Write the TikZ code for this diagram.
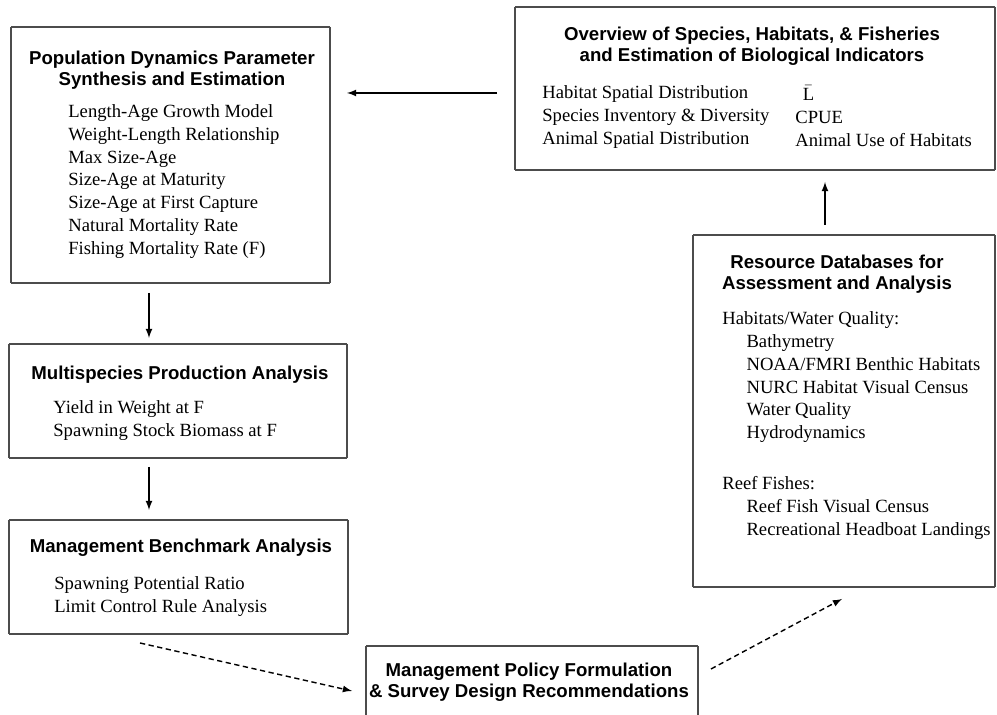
\documentclass[tikz,border=0pt]{standalone}
\usepackage{fontspec}
\setmainfont{Liberation Serif}
\setsansfont{Liberation Sans}
\usetikzlibrary{arrows}
\pgfdeclarelayer{edgelayer}
\pgfdeclarelayer{nodelayer}
\pgfsetlayers{nodelayer,main,edgelayer}
\tikzset{
	heading/.style={align=center, font=\sffamily\bfseries\fontsize{10.6}{12}\selectfont},
	listing/.style={align=left, anchor=west, inner sep=0pt, font=\fontsize{10.6}{13}\selectfont},
	boxline/.style={line width=0.9pt, color=black!70},
	flow/.style={thick, -latex},
	dashflow/.style={thick, dash pattern=on 3pt off 2pt, -latex}
}

\begin{document}
\begin{tikzpicture}
	\useasboundingbox (0,0) rectangle (19.94,14.3);
	\begin{pgfonlayer}{nodelayer}
		\node [] (0) at (0.22, 13.76) {};
		\node [] (1) at (6.6, 13.76) {};
		\node [] (2) at (6.6, 8.64) {};
		\node [] (3) at (0.22, 8.64) {};
		\node [] (4) at (0.18, 7.42) {};
		\node [] (5) at (6.94, 7.42) {};
		\node [] (6) at (6.94, 5.14) {};
		\node [] (7) at (0.18, 5.14) {};
		\node [] (8) at (0.18, 3.9) {};
		\node [] (9) at (6.96, 3.9) {};
		\node [] (10) at (6.96, 1.62) {};
		\node [] (11) at (0.18, 1.62) {};
		\node [] (12) at (7.32, 0) {};
		\node [] (13) at (7.32, 1.38) {};
		\node [] (14) at (13.96, 1.38) {};
		\node [] (15) at (13.96, 0) {};
		\node [] (16) at (13.86, 9.6) {};
		\node [] (17) at (19.9, 9.6) {};
		\node [] (18) at (19.9, 2.56) {};
		\node [] (19) at (13.86, 2.56) {};
		\node [] (20) at (10.3, 14.16) {};
		\node [] (21) at (19.9, 14.16) {};
		\node [] (22) at (19.9, 10.9) {};
		\node [] (23) at (10.3, 10.9) {};
		\node [] (24) at (9.94, 12.44) {};
		\node [] (25) at (6.94, 12.44) {};
		\node [] (26) at (2.98, 8.44) {};
		\node [] (27) at (2.98, 7.54) {};
		\node [] (28) at (2.98, 4.96) {};
		\node [] (29) at (2.98, 4.1) {};
		\node [] (30) at (2.8, 1.44) {};
		\node [] (31) at (7.04, 0.48) {};
		\node [] (32) at (14.22, 0.92) {};
		\node [] (33) at (16.84, 2.32) {};
		\node [] (34) at (16.5, 9.8) {};
		\node [] (35) at (16.5, 10.66) {};
		\node [heading] (36) at (3.44, 12.9) {Population Dynamics Parameter\\Synthesis and Estimation};
		\node [listing] (37) at (1.36, 10.67) {Length-Age Growth Model\\Weight-Length Relationship\\Max Size-Age\\Size-Age at Maturity\\Size-Age at First Capture\\Natural Mortality Rate\\Fishing Mortality Rate (F)};
		\node [heading] (38) at (3.6, 6.8) {Multispecies Production Analysis};
		\node [listing] (39) at (1.06, 5.89) {Yield in Weight at F\\Spawning Stock Biomass at F};
		\node [heading] (40) at (3.62, 3.34) {Management Benchmark Analysis};
		\node [listing] (41) at (1.08, 2.37) {Spawning Potential Ratio\\Limit Control Rule Analysis};
		\node [heading] (42) at (10.58, 0.65) {Management Policy Formulation\\\& Survey Design Recommendations};
		\node [heading] (43) at (16.74, 8.82) {Resource Databases for\\Assessment and Analysis};
		\node [listing] (44) at (14.44, 5.79) {Habitats/Water Quality:\\\hspace*{1.3em}Bathymetry\\\hspace*{1.3em}NOAA/FMRI Benthic Habitats\\\hspace*{1.3em}NURC Habitat Visual Census\\\hspace*{1.3em}Water Quality\\\hspace*{1.3em}Hydrodynamics\\[16pt]Reef Fishes:\\\hspace*{1.3em}Reef Fish Visual Census\\\hspace*{1.3em}Recreational Headboat Landings};
		\node [heading] (45) at (15.04, 13.38) {Overview of Species, Habitats, \& Fisheries\\and Estimation of Biological Indicators};
		\node [listing] (46) at (10.84, 11.98) {\vphantom{$\bar{\mbox{L}}$}Habitat Spatial Distribution\\Species Inventory \& Diversity\\Animal Spatial Distribution};
		\node [listing] (47) at (15.9, 11.98) {\hspace*{0.4em}$\bar{\mbox{L}}$\\CPUE\\Animal Use of Habitats};
	\end{pgfonlayer}
	\begin{pgfonlayer}{edgelayer}
		\draw [boxline] (0.center) to (1.center);
		\draw [boxline] (1.center) to (2.center);
		\draw [boxline] (2.center) to (3.center);
		\draw [boxline] (3.center) to (0.center);
		\draw [boxline] (4.center) to (5.center);
		\draw [boxline] (5.center) to (6.center);
		\draw [boxline] (6.center) to (7.center);
		\draw [boxline] (7.center) to (4.center);
		\draw [boxline] (8.center) to (9.center);
		\draw [boxline] (9.center) to (10.center);
		\draw [boxline] (10.center) to (11.center);
		\draw [boxline] (11.center) to (8.center);
		\draw [boxline] (12.center) to (13.center);
		\draw [boxline] (13.center) to (14.center);
		\draw [boxline] (14.center) to (15.center);
		\draw [boxline] (16.center) to (17.center);
		\draw [boxline] (17.center) to (18.center);
		\draw [boxline] (18.center) to (19.center);
		\draw [boxline] (19.center) to (16.center);
		\draw [boxline] (20.center) to (21.center);
		\draw [boxline] (21.center) to (22.center);
		\draw [boxline] (22.center) to (23.center);
		\draw [boxline] (23.center) to (20.center);
		\draw [flow] (24.center) to (25.center);
		\draw [flow] (26.center) to (27.center);
		\draw [flow] (28.center) to (29.center);
		\draw [dashflow] (30.center) to (31.center);
		\draw [dashflow] (32.center) to (33.center);
		\draw [flow] (34.center) to (35.center);
	\end{pgfonlayer}
\end{tikzpicture}
\end{document}
